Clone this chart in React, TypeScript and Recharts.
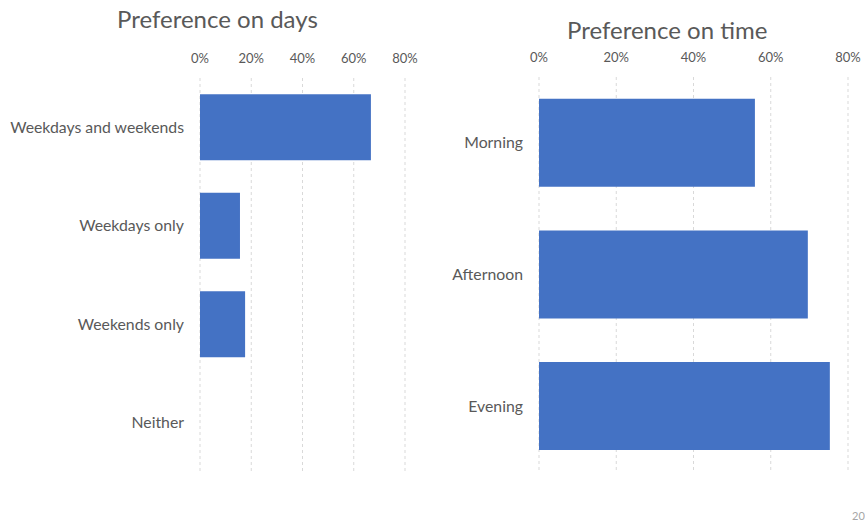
import { BarChart, Bar, XAxis, YAxis, CartesianGrid } from "recharts";

const DAY_LABELS = ["Weekdays and weekends", "Weekdays only", "Weekends only", "Neither"];
const DAY_VALUES = [0.667, 0.156, 0.176, 0];

const TIME_LABELS = ["Morning", "Afternoon", "Evening"];
const TIME_VALUES = [0.559, 0.696, 0.753];

const TICKS = [0, 0.2, 0.4, 0.6, 0.8];

const FONT = "Lato, 'Open Sans', sans-serif";
const TEXT = "#595959";
const BAR = "#4472C4";

const dayData = DAY_LABELS.map((label, i) => ({ label, value: DAY_VALUES[i] }));
const timeData = TIME_LABELS.map((label, i) => ({ label, value: TIME_VALUES[i] }));

const pct = (v: number) => `${Math.round(v * 100)}%`;

interface PanelProps {
  data: { label: string; value: number }[];
  width: number;
  yWidth: number;
  top: number;
  right: number;
}

function Panel({ data, width, yWidth, top, right }: PanelProps) {
  return (
    <BarChart
      width={width}
      height={526}
      data={data}
      layout="vertical"
      margin={{ top: top - 30, right, bottom: 54, left: 0 }}
      barCategoryGap="16.5%"
    >
      <CartesianGrid horizontal={false} stroke="#d9d9d9" strokeDasharray="3 3" />
      <XAxis
        type="number"
        orientation="top"
        domain={[0, 0.8]}
        ticks={TICKS}
        tickFormatter={pct}
        axisLine={false}
        tickLine={false}
        height={30}
        tickMargin={9}
        tick={{ fill: TEXT, fontSize: 13, fontFamily: FONT }}
      />
      <YAxis
        type="category"
        dataKey="label"
        width={yWidth}
        axisLine={false}
        tickLine={false}
        tickMargin={10}
        tick={{ fill: TEXT, fontSize: 15.8, fontFamily: FONT }}
      />
      <Bar dataKey="value" fill={BAR} isAnimationActive={false} />
    </BarChart>
  );
}

export default function App() {
  return (
    <div style={{ position: "absolute", left: 0, top: 0, width: 865, height: 526, overflow: "hidden", background: "#fff", fontFamily: FONT }}>
      <div style={{ position: "absolute", left: 0, top: 0 }}>
        <Panel data={dayData} width={430} yWidth={200} top={78} right={25} />
      </div>
      <div style={{ position: "absolute", left: 430, top: 0 }}>
        <Panel data={timeData} width={435} yWidth={109} top={77} right={17} />
      </div>
      <div style={{ position: "absolute", left: 117, top: 4, fontSize: 24, color: TEXT }}>Preference on days</div>
      <div style={{ position: "absolute", left: 567, top: 15, fontSize: 24, color: TEXT }}>Preference on time</div>
      <div style={{ position: "absolute", left: 852, top: 509, fontSize: 11, color: "#a6a6a6" }}>20</div>
    </div>
  );
}
